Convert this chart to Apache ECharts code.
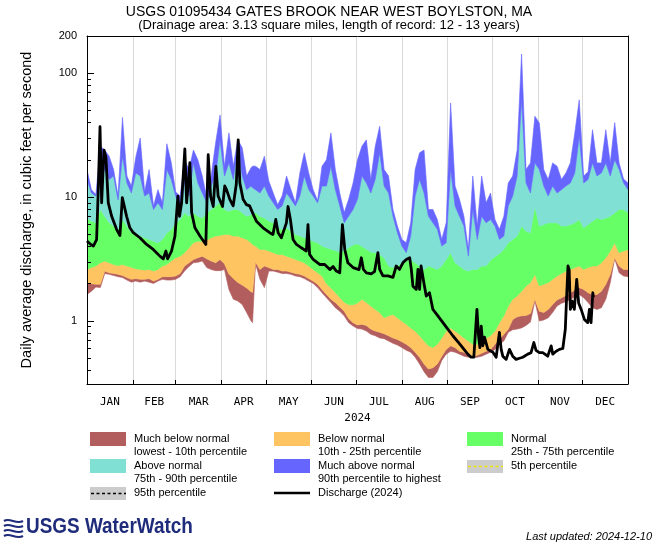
<!DOCTYPE html>
<html><head><meta charset="utf-8">
<script src="https://cdn.jsdelivr.net/npm/echarts@6/dist/echarts.min.js"></script>
<style>html,body{margin:0;padding:0;background:#fff}#c{width:658px;height:549px}</style>
</head><body><div id="c"></div>
<script>
// ---------------- DATA ----------------
// Day of year (0 = Jan 1) for the percentile bands
const days = [0,3,6,9,12,15,18,21,24,27,
  30,33,36,39,42,45,48,51,54,57,
  60,63,66,69,72,75,78,81,84,87,
  90,93,96,99,102,105,108,111,112,114,
  117,120,123,126,129,132,135,138,141,144,
  147,150,153,156,159,162,165,168,171,174,
  177,180,183,186,189,192,195,198,201,204,
  207,210,213,216,219,222,225,228,231,234,
  237,240,243,246,249,252,255,258,261,264,
  267,270,273,276,279,282,285,288,291,294,
  297,300,303,306,309,312,315,318,321,324,
  327,330,333,336,339,342,345,348,351,354,
  357,360,363,366];
// Lowest daily value of record
const minQ = [1.64,1.74,1.88,1.86,2.42,2.38,2.33,2.28,2.24,2.14,
  2.06,2.1,2.06,2.1,2.06,2.01,2.1,2.17,2.14,2.14,
  2.17,2.28,2.53,2.75,2.95,2.98,3.05,2.7,2.6,2.55,
  2.55,2.6,1.8,1.5,1.45,1.36,1.17,1.0,0.97,2.9,
  2.17,1.86,2.53,2.53,2.48,2.42,2.42,2.38,2.31,2.28,
  2.2,2.1,2.01,1.86,1.69,1.54,1.41,1.28,1.2,1.1,
  0.97,0.91,0.87,0.86,0.83,0.78,0.76,0.73,0.72,0.69,
  0.66,0.64,0.61,0.58,0.56,0.51,0.45,0.39,0.35,0.35,
  0.39,0.48,0.54,0.57,0.56,0.54,0.52,0.51,0.505,0.51,
  0.52,0.54,0.56,0.59,0.65,0.69,0.81,0.85,0.86,0.88,
  0.92,0.98,1.45,1.0,1.02,1.06,1.17,1.32,1.39,1.43,
  1.50,1.57,1.64,1.54,1.41,1.28,1.24,1.28,1.50,2.04,
  3.18,2.45,2.31,2.28];
// 10th percentile
const p10 = [2.04,2.0,1.98,1.98,2.53,2.45,2.42,2.38,2.33,2.24,
  2.17,2.2,2.17,2.17,2.2,2.1,2.17,2.28,2.28,2.28,
  2.31,2.42,2.78,2.95,3.14,3.24,3.34,3.18,3.05,2.95,
  3.14,2.9,2.4,2.2,2.05,1.95,1.85,1.72,1.7,3.0,
  2.61,2.78,2.7,2.61,2.61,2.53,2.53,2.48,2.42,2.38,
  2.31,2.2,2.1,1.98,1.80,1.64,1.50,1.41,1.3,1.2,
  1.05,0.97,0.93,0.94,0.92,0.86,0.83,0.81,0.79,0.76,
  0.73,0.71,0.68,0.65,0.61,0.56,0.51,0.45,0.41,0.42,
  0.45,0.52,0.59,0.63,0.61,0.57,0.56,0.53,0.52,0.53,
  0.55,0.57,0.59,0.65,0.71,0.78,0.86,1.03,1.08,1.10,
  1.11,1.15,1.50,1.2,1.17,1.24,1.36,1.48,1.54,1.61,
  1.69,1.78,1.86,1.80,1.69,1.64,1.64,1.74,1.98,2.38,
  3.24,2.78,2.61,2.61];
// 25th percentile
const p25 = [2.61,2.7,2.78,2.95,3.05,2.95,2.86,2.8,2.86,2.78,
  2.72,2.64,2.61,2.58,2.61,2.53,2.61,2.78,2.86,3.05,
  3.24,3.34,3.56,3.9,4.28,4.4,4.4,4.5,4.7,4.85,
  4.9,5.0,5.0,4.85,4.85,4.7,4.56,4.28,4.15,4.03,
  3.78,3.78,3.67,3.56,3.45,3.45,3.34,3.24,3.14,3.05,
  2.95,2.78,2.61,2.45,2.31,2.0,1.85,1.7,1.55,1.42,
  1.35,1.35,1.4,1.50,1.41,1.32,1.24,1.17,1.06,1.10,
  1.13,1.06,1.0,0.94,0.88,0.83,0.76,0.69,0.63,0.61,
  0.65,0.73,0.83,0.88,0.83,0.78,0.73,0.69,0.65,0.65,
  0.69,0.73,0.76,0.83,0.97,1.10,1.32,1.50,1.59,1.74,
  1.92,2.04,2.38,1.92,1.98,2.04,2.17,2.31,2.42,2.53,
  2.61,2.7,2.78,2.61,2.7,2.78,2.78,2.95,3.24,3.67,
  4.28,3.56,3.67,3.78];
// 75th percentile
const p75 = [6.8,6.4,6.2,7.95,7.0,6.2,5.84,5.49,6.6,5.84,
  5.16,5.0,4.85,4.7,4.56,4.4,4.28,4.56,5.16,5.49,
  6.2,6.6,7.47,7.0,7.47,7.0,6.8,7.47,7.95,8.46,
  9.0,7.95,7.7,7.95,7.95,7.47,7.0,7.2,7.3,7.47,
  7.0,6.8,6.4,6.2,5.66,5.49,5.66,5.3,5.0,4.85,
  4.7,4.56,4.4,4.28,4.03,3.9,3.8,3.7,3.6,3.7,
  3.9,4.1,4.2,4.0,3.8,3.6,3.56,3.45,3.24,2.78,
  2.7,2.78,2.95,3.05,3.14,2.95,2.78,2.61,2.78,2.7,
  2.61,2.78,3.14,3.56,2.95,2.78,2.61,2.53,2.61,2.61,
  2.78,2.78,3.1,3.3,3.5,3.78,4.28,4.56,4.85,5.84,
  5.3,5.16,8.46,5.84,6.0,6.2,6.2,6.2,5.84,5.84,
  6.0,6.2,6.6,5.66,6.0,6.4,6.8,6.6,6.8,7.0,
  7.47,7.95,7.95,7.47];
// 90th percentile
const p90 = [13.9,10.8,10.2,14.8,16.7,13.9,14.8,9.5,21.4,13,
  10.8,15.7,14.8,10.2,10.8,7.95,9.0,7.95,16.7,13.9,
  10.2,7.95,13,10.2,18.9,13,10.8,9.0,12.3,14.8,
  29,14.8,18.9,13.9,25.8,14.8,11.5,12.3,11.9,11.5,
  10.8,12.3,10.2,9.0,7.95,8.5,10.8,9.6,8.5,10.2,
  14.8,11.5,10.2,9.0,12.3,12.3,17.8,11.5,8.5,6.2,
  7.0,7.95,9.6,14.8,13,10.8,13.9,22.8,12.3,10.8,
  7.0,5.16,4.03,3.56,4.85,10.2,13.9,10.8,7.0,6.2,
  5.5,4.03,4.28,16.7,8.5,7.0,5.84,3.34,7.95,4.56,
  7.0,6.2,6.6,5.84,4.56,4.85,8.5,10.2,14.8,61,
  13,10.8,18.9,16.7,12.3,10.2,12.3,10.8,11.5,12.3,
  13,15.7,31,13,13.9,18.9,14.8,15.7,18.9,14.8,
  20,16.7,13,11.5];
// Highest daily value of record
const maxQ = [16.7,11.5,10.5,25.8,24,21.4,16.7,10.2,44,14.8,
  12.3,21,30,11.1,16.7,8.5,11.5,9.0,27,19,
  11,10.2,20,16.7,24,20,14.8,9.9,14.8,27.4,
  46,17.8,33,17.8,29.2,25,14.8,17.3,17.8,17.8,
  16.7,21.4,13.5,10.8,8.7,10.2,14.8,11.5,9.0,15.7,
  22.8,15.7,11.5,9.4,17.8,20,33,16.7,10.8,7.5,
  9.6,13,20,25.8,29,13.9,25.8,37.4,16.7,14.8,
  7.95,5.84,4.56,4.28,6.2,16.7,22.8,24,7.95,7.95,
  6.6,4.56,6.2,57.6,12.3,9.6,7.0,3.78,14.8,5.84,
  14.8,9.0,10.8,6.6,5.5,7.0,13.0,14.8,24,143,
  16.7,18.9,45,39.7,16.7,13.9,18.9,17.8,13.9,15.7,
  18.9,33,61,14.8,16,35,18.9,18.9,35,18.9,
  40,18.9,14,13];
// Discharge 2024: day of year and value
const qDays = [0,2,4.3,6.5,7.7,8.8,9.9,11.5,12.8,14.4,16.7,20,22.3,23.9,25.2,26.8,29,31.3,35.8,40.3,
  44.8,49.3,51.6,53.4,54.5,57.2,59.5,61.5,62.6,64,66.2,67.4,69.6,70.8,73,76.4,80.4,82,83.6,85.4,
  87.2,88.7,91.7,93.2,94.4,96.6,98.9,101,102.3,103.4,105.6,107.9,110,112.4,114.6,119.1,123.6,125.8,127.7,129.3,
  131.5,134.9,136,137.6,139.4,141.7,145,148.4,149.5,150.6,153,157.4,160.8,164.3,166.5,168.7,171,172.8,174.4,176.5,
  180,184,185.6,187,189,192.3,194.5,196.8,198,200.2,203.6,207,209.2,211.4,213.7,216,218.3,219.4,220.5,222.8,
  223.9,225,226,228.3,229.5,231.7,234,237.4,240.8,244.1,247.5,253.2,257.6,259.9,261.7,263.8,264.9,265.8,266.7,267.8,
  268.9,271.2,274.6,276.8,279,280.2,281.3,283.6,285.8,288,290.3,292.6,294.8,298.2,300.4,302.3,303.8,306,308.3,311.7,
  314,315.1,317.4,319.6,321.9,323.6,324.5,325.4,326.2,327,328.2,329.7,331.3,332.6,334.3,336.5,338.8,339.9,341,342.2,
  342.6];
const qVals = [4.42,4.2,4.03,4.55,12.3,37,9,24,21,9,7.0,5.5,4.9,9.9,9.6,7.0,5.66,5.16,4.7,4.15,
  3.78,3.34,3.18,3.67,3.18,3.67,4.85,10.2,7.0,9,24.5,9,19,7.5,5.66,4.85,4.15,22,10.2,8.4,
  17.7,10.2,8.4,12.3,11.5,9.6,8.5,12.7,29,13,9.6,8.7,8.5,7.3,6.4,5.66,5.16,5.0,6.6,5.16,
  4.7,6.2,8.4,6.6,4.55,4.15,3.9,3.67,6.0,3.45,3.14,2.86,2.86,2.6,2.75,2.53,2.45,6.0,3.78,2.95,
  2.7,2.6,3.24,2.61,2.45,2.4,2.5,3.56,2.61,2.31,2.31,2.25,2.78,2.61,2.95,3.14,3.24,2.61,1.91,1.8,
  2.61,1.8,2.78,1.91,1.59,1.69,1.24,1.1,0.97,0.86,0.76,0.63,0.54,0.51,0.51,1.24,0.76,0.61,0.91,0.63,
  0.74,0.59,0.56,0.51,0.81,0.59,0.52,0.49,0.59,0.52,0.49,0.5,0.51,0.54,0.555,0.67,0.58,0.555,0.555,0.52,
  0.63,0.54,0.57,0.59,0.6,0.86,1.59,2.78,2.6,1.24,1.45,1.24,2.17,1.4,1.24,1.03,0.97,1.24,0.97,1.69,
  1.55];
// Axis ticks / labels
const monthStarts = [0,31,60,91,121,152,182,213,244,274,305,335,366];
const monthMids = [15.5,45.5,75.5,106,136.5,167,197.5,228.5,259,289.5,320,350.5];
const monthNames = ['JAN','FEB','MAR','APR','MAY','JUN','JUL','AUG','SEP','OCT','NOV','DEC'];
const yMajorTicks = [1,10,100];
const yLabelValues = [1,10,100,200];
const yMinorTicks = [0.4,0.5,0.6,0.7,0.8,0.9,2,3,4,5,6,7,8,9,20,30,40,50,60,70,80,90];
// Legend text
const bandNames = ['Much below normal','Below normal','Normal','Above normal','Much above normal'];
const bandSub = ['lowest - 10th percentile','10th - 25th percentile','25th - 75th percentile','75th - 90th percentile','90th percentile to highest'];
const bandColors = ['#B35E5E','#FFC462','#66FF66','#7FE0D3','#6666FF'];

// ---------------- BUILD ----------------
const pairs = (xs, ys) => xs.map((x, i) => [x, ys[i]]);
const bandLower = [minQ, p10, p25, p75, p90];
const bandUpper = [p10, p25, p75, p90, maxQ];
const FONT = '"Liberation Sans", Arial, Helvetica, sans-serif';

function svgIcon(inner) {
  return 'image://data:image/svg+xml;charset=utf-8,' + encodeURIComponent(
    '<svg xmlns="http://www.w3.org/2000/svg" width="39" height="27" viewBox="0 0 39 27">' + inner + '</svg>');
}
const rectIcon = c => svgIcon('<rect x="0" y="0" width="36" height="14" fill="' + c + '"/>');
const dashIcon = c => svgIcon('<rect x="0" y="1" width="36" height="13" fill="#cccccc"/><line x1="1" y1="7.5" x2="36" y2="7.5" stroke="' + c + '" stroke-width="1.4" stroke-dasharray="3,2.5"/>');
const lineIcon = svgIcon('<line x1="0" y1="7" x2="36" y2="7" stroke="#000" stroke-width="2.6"/>');

const labelOf = {};
const iconOf = {};
bandNames.forEach((n, i) => { labelOf[n] = n + '\n' + bandSub[i]; iconOf[n] = rectIcon(bandColors[i]); });
labelOf['5th percentile'] = '5th percentile\n '; iconOf['5th percentile'] = dashIcon('#f2e600');
labelOf['95th percentile'] = '95th percentile\n '; iconOf['95th percentile'] = dashIcon('#000');
labelOf['Discharge (2024)'] = 'Discharge (2024)\n '; iconOf['Discharge (2024)'] = lineIcon;

const legendCols = [
  {left: 90, items: ['Much below normal', 'Above normal', '95th percentile']},
  {left: 274, items: ['Below normal', 'Much above normal', 'Discharge (2024)']},
  {left: 467, items: ['Normal', '5th percentile']}
];

// Each percentile band is one polygon between its lower and upper curves, placed via the axes
function bandSeries(i) {
  const lo = bandLower[i], hi = bandUpper[i], color = bandColors[i];
  return {
    name: bandNames[i], type: 'custom', silent: true, clip: true, z: 2,
    itemStyle: {color: color},
    data: [[days[0], hi[0]]],
    renderItem: function (params, api) {
      const pts = [];
      for (let k = 0; k < days.length; k++) pts.push(api.coord([days[k], hi[k]]));
      for (let k = days.length - 1; k >= 0; k--) pts.push(api.coord([days[k], lo[k]]));
      return {type: 'polygon', shape: {points: pts},
        style: {fill: color, stroke: color, lineWidth: 0.6}};
    }
  };
}

const series = bandNames.map((n, i) => bandSeries(i));
series.push({name: '5th percentile', type: 'line', data: [], symbol: 'none', lineStyle: {type: 'dashed', color: '#f2e600'}});
series.push({name: '95th percentile', type: 'line', data: [], symbol: 'none', lineStyle: {type: 'dashed', color: '#000'}});
series.push({
  name: 'Discharge (2024)', type: 'line', data: pairs(qDays, qVals), symbol: 'none', z: 5,
  lineStyle: {color: '#000', width: 2.8, join: 'round'}, silent: true
});

// small wave mark of the logo
const waveY = [0, 5, 10, 15];
const logoWaves = waveY.map(dy => ({
  type: 'bezierCurve', x: 4, y: 519 + dy,
  shape: {x1: 0, y1: 2, cpx1: 6, cpy1: -2, cpx2: 12, cpy2: 6, x2: 19, y2: 2},
  style: {stroke: '#1f2b7b', lineWidth: 2.2, fill: null}
}));

const chart = echarts.init(document.getElementById('c'), null, {renderer: 'canvas'});
chart.setOption({
  animation: false,
  backgroundColor: '#fff',
  title: [
    {text: 'USGS 01095434 GATES BROOK NEAR WEST BOYLSTON, MA', left: 'center', top: 5, padding: 0,
      textStyle: {fontSize: 14, fontWeight: 'normal', fontFamily: FONT, color: '#000'}},
    {text: '(Drainage area: 3.13 square miles, length of record: 12 - 13 years)', left: 'center', top: 19, padding: 0,
      textStyle: {fontSize: 13, fontWeight: 'normal', fontFamily: FONT, color: '#000'}}
  ],
  grid: {left: 87, right: 30, top: 36, bottom: 165, containLabel: false},
  xAxis: [{
    type: 'value', min: 0, max: 366, position: 'bottom',
    axisLine: {lineStyle: {color: '#000', width: 1}},
    axisTick: {inside: true, length: 4, customValues: monthStarts, lineStyle: {color: '#000'}},
    splitLine: {show: true, lineStyle: {color: '#d9d9d9', width: 1}},
    axisLabel: {customValues: monthMids, margin: 13, color: '#000', fontSize: 11, fontFamily: '"DejaVu Sans Mono", monospace',
      formatter: v => monthNames[monthMids.indexOf(v)] || ''},
    name: '2024', nameLocation: 'middle', nameGap: 28,
    nameTextStyle: {color: '#000', fontSize: 11, fontFamily: '"DejaVu Sans Mono", monospace'}
  }, {
    type: 'value', min: 0, max: 1, position: 'top', z: 10,
    axisLine: {show: true, lineStyle: {color: '#000', width: 1}},
    axisTick: {show: false}, axisLabel: {show: false}, splitLine: {show: false}
  }],
  yAxis: [{
    type: 'log', logBase: 10, min: 0.31, max: 200, position: 'left', z: 10,
    axisLine: {show: true, lineStyle: {color: '#000', width: 1}},
    axisTick: {inside: true, length: 7, customValues: yMajorTicks, lineStyle: {color: '#000'}},
    axisLabel: {customValues: yLabelValues, margin: 10, color: '#000', fontSize: 11, fontFamily: FONT,
      formatter: v => String(Math.round(v))},
    splitLine: {show: false}, minorTick: {show: false},
    name: 'Daily average discharge, in cubic feet per second', nameLocation: 'middle', nameGap: 53,
    nameTextStyle: {color: '#000', fontSize: 14.5, fontFamily: FONT}
  }, {
    type: 'log', logBase: 10, min: 0.31, max: 200, position: 'left', offset: 0, z: 10,
    axisLine: {show: false},
    axisTick: {inside: true, length: 4, customValues: yMinorTicks, lineStyle: {color: '#000'}},
    axisLabel: {show: false}, splitLine: {show: false}
  }, {
    type: 'value', min: 0, max: 1, position: 'right', z: 10,
    axisLine: {show: true, lineStyle: {color: '#000', width: 1}},
    axisTick: {show: false}, axisLabel: {show: false}, splitLine: {show: false}
  }],
  legend: legendCols.map(col => ({
    orient: 'vertical', left: col.left, top: 432, itemWidth: 39, itemHeight: 27, itemGap: 0, padding: 0,
    selectedMode: false,
    textStyle: {fontSize: 11, lineHeight: 13.5, color: '#000', fontFamily: FONT},
    formatter: name => labelOf[name],
    data: col.items.map(n => ({name: n, icon: iconOf[n]}))
  })),
  graphic: logoWaves.concat([
    {type: 'text', x: 26, y: 516, scaleX: 0.86,
      style: {text: 'USGS WaterWatch', font: 'bold 22px "Liberation Sans", Arial, sans-serif', fill: '#1f2b7b'}},
    {type: 'text', right: 6, top: 531, style: {text: 'Last updated: 2024-12-10', font: 'italic 11px "Liberation Sans", Arial, sans-serif', fill: '#000'}}
  ]),
  series: series
});
</script>
</body></html>
